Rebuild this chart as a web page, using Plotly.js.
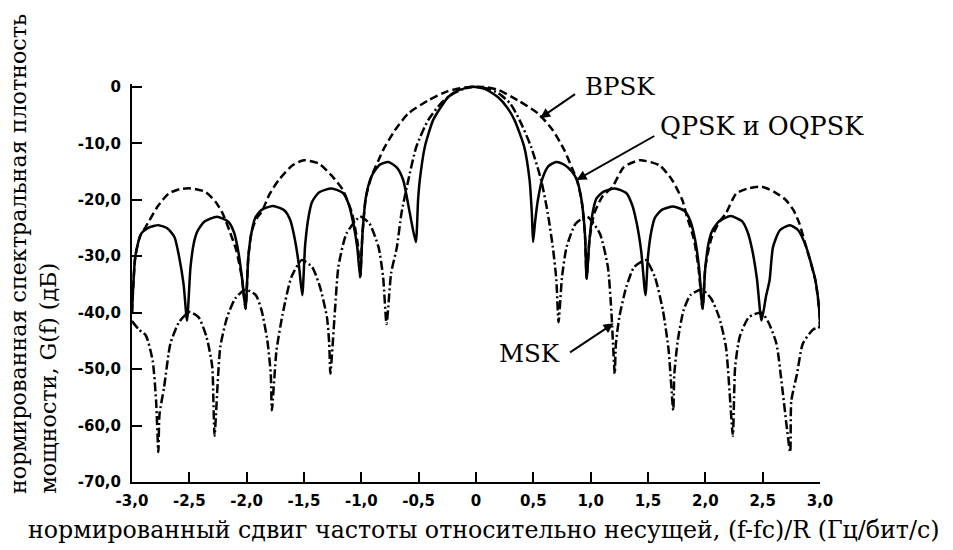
<!DOCTYPE html>
<html>
<head>
<meta charset="utf-8">
<script src="https://cdn.plot.ly/plotly-3.0.1.min.js"></script>
<style>html,body{margin:0;padding:0;background:#fff;}#chart{width:953px;height:550px;}</style>
</head>
<body>
<div id="chart"></div>
<script>
// QPSK и OQPSK (solid)
const qpskX = [-3.0,-2.97,-2.92,-2.85,-2.77,-2.69,-2.63,-2.59,-2.55,-2.52,
  -2.49,-2.46,-2.43,-2.37,-2.26,-2.16,-2.11,-2.07,-2.04,-2.01,
  -1.985,-1.955,-1.925,-1.87,-1.77,-1.67,-1.62,-1.58,-1.545,-1.515,
  -1.49,-1.46,-1.43,-1.37,-1.26,-1.16,-1.11,-1.07,-1.035,-1.01,
  -0.99,-0.96,-0.91,-0.84,-0.765,-0.69,-0.635,-0.577,-0.525,
  -0.505,-0.49,-0.446,-0.374,-0.30,-0.243,-0.15,-0.03,0.08,0.19,0.27,0.336,0.42,0.467,0.487,0.498,
  0.515,0.54,0.58,0.63,0.70,0.77,0.836,0.88,0.92,0.95,0.965,
  0.99,1.02,1.05,1.11,1.21,1.31,1.36,1.40,1.44,1.478,
  1.50,1.53,1.56,1.62,1.72,1.82,1.87,1.91,1.945,1.976,
  2.0,2.03,2.06,2.12,2.22,2.32,2.37,2.41,2.45,2.49,
  2.53,2.56,2.59,2.65,2.737,2.81,2.88,2.96,2.995,3.0];
const qpskY = [-40,-29.9,-26,-24.9,-24.5,-25.1,-26.6,-30,-35,-41.4,
  -32,-27.6,-25.6,-23.9,-23,-23.9,-25.8,-29.5,-34,-39.3,
  -30,-25.5,-23.2,-21.8,-21.1,-21.9,-23.6,-27,-31.5,-36.9,
  -28,-23,-20.4,-18.7,-18,-18.8,-20.8,-24.2,-28.5,-33.7,
  -26,-19.5,-15.8,-13.8,-13.3,-14.3,-16.5,-22.4,-27.5,
  -20,-16.5,-10.6,-5.9,-3.4,-1.8,-0.6,0,-0.4,-1.8,-3.6,-5.9,-10.6,-16.5,-22.4,-27.5,
  -24,-20,-16.2,-14.1,-13.3,-13.8,-15,-16.5,-20,-26,-34,
  -27,-22,-19.8,-18.6,-18,-18.8,-20.8,-24,-29,-36.9,
  -30,-25.5,-23.2,-21.8,-21.2,-22,-23.8,-27,-32,-39.3,
  -32,-27.5,-25.5,-23.8,-22.9,-23.8,-25.8,-29,-34,-41.4,
  -37,-34.3,-28.4,-25.4,-24.5,-25.4,-28.4,-34.3,-40,-42.5];

// BPSK (dashed)
const bpskX = [-3.0,-2.97,-2.93,-2.88,-2.78,-2.68,-2.58,-2.49,-2.36,-2.27,-2.21,-2.15,-2.09,-2.04,-2.01,
  -1.985,-1.955,-1.91,-1.87,-1.80,-1.72,-1.6,-1.5,-1.37,-1.26,-1.16,-1.08,-1.03,-1.01,
  -0.99,-0.96,-0.91,-0.85,-0.81,-0.707,-0.59,-0.417,-0.25,-0.1,0,0.1,0.2,0.365,0.54,0.67,0.77,0.84,0.88,0.92,0.95,0.965,
  0.99,1.03,1.1,1.19,1.29,1.43,1.6,1.71,1.8,1.84,1.90,1.94,1.976,
  2.0,2.05,2.12,2.18,2.27,2.37,2.49,2.6,2.7,2.77,2.82,2.88,2.96,2.995,3.0];
const bpskY = [-40,-29.9,-26.5,-24.8,-21.3,-18.9,-18.1,-18,-18.6,-20.4,-22.4,-25.5,-29,-34,-39.3,
  -30,-25.5,-23.2,-22.2,-19,-16.5,-13.9,-13,-13.6,-15.7,-18.3,-22.5,-28,-33.7,
  -26,-19.5,-15.8,-13,-11.2,-7.7,-4.7,-2.4,-0.8,-0.1,0,-0.1,-0.6,-2.4,-4.7,-7.7,-11.2,-14.5,-16.5,-20,-26,-34,
  -27,-22.5,-19.5,-17.7,-14.2,-13,-13.9,-16.5,-20.1,-23,-27,-32,-39.3,
  -32,-27,-24,-22.4,-18.9,-18,-17.7,-18.6,-20,-21.9,-24.2,-28.4,-34.3,-40,-42.5];

// MSK (dash-dot)
const mskX = [-3.0,-2.94,-2.88,-2.82,-2.79,-2.77,
  -2.76,-2.72,-2.665,-2.59,-2.5,-2.42,-2.35,-2.3,-2.29,-2.28,
  -2.23,-2.17,-2.1,-2.01,-1.92,-1.87,-1.82,-1.79,-1.78,
  -1.74,-1.68,-1.61,-1.52,-1.43,-1.36,-1.3,-1.28,-1.27,
  -1.23,-1.2,-1.13,-1.01,-0.93,-0.85,-0.81,-0.78,
  -0.74,-0.69,-0.65,-0.59,-0.52,-0.417,-0.3,-0.2,-0.1,-0.02,0.1,0.2,0.3,0.38,0.48,0.568,0.626,0.67,0.70,0.72,
  0.75,0.79,0.87,0.97,1.08,1.15,1.18,1.21,
  1.22,1.25,1.31,1.38,1.48,1.56,1.63,1.68,1.72,
  1.73,1.76,1.81,1.87,1.97,2.05,2.12,2.18,2.24,
  2.25,2.26,2.30,2.38,2.49,2.55,2.62,2.67,2.74,
  2.75,2.80,2.85,2.94,2.98,3.0];
const mskY = [-41.5,-43,-44,-48.5,-55.6,-64.7,
  -58,-53.2,-45.5,-41.7,-39.9,-40.8,-44.3,-49.6,-55.6,-61.8,
  -46.1,-40.8,-37.5,-35.9,-36.9,-39.6,-44.9,-50.8,-57.3,
  -46.7,-39.6,-33.7,-30.7,-31.9,-35.5,-40.8,-45.5,-50.8,
  -39.6,-31.9,-26,-23,-24.2,-28.4,-33.7,-42,
  -33,-28.4,-22.4,-16.5,-10.6,-5.9,-2.8,-1.2,-0.3,0,-0.3,-1.2,-3.0,-5.9,-10.6,-16.5,-22.4,-28.4,-34,-41.7,
  -33.7,-28.4,-24.2,-23,-26,-31.9,-39.6,-50.8,
  -45.5,-40.8,-35.5,-31.9,-30.7,-33.7,-39.6,-46.7,-57.3,
  -50.8,-44.9,-39.6,-36.9,-35.9,-37.5,-40.8,-46.1,-61.8,
  -55.6,-49.6,-44.3,-40.8,-40,-41.7,-45.5,-53.2,-64.7,
  -55.6,-50.8,-45.5,-43,-42.7,-42.5];

const xTickVals = [-3,-2.5,-2,-1.5,-1,-0.5,0,0.5,1,1.5,2,2.5,3];
const xTickText = ['-3,0','-2,5','-2,0','-1,5','-1,0','-0,5','0','0,5','1,0','1,5','2,0','2,5','3,0'];
const yTickVals = [0,-10,-20,-30,-40,-50,-60,-70];
const yTickText = ['0','-10,0','-20,0','-30,0','-40,0','-50,0','-60,0','-70,0'];

const xTitle = 'нормированный сдвиг частоты относительно несущей, (f-fc)/R (Гц/бит/с)';
const yTitle1 = 'нормированная спектральная плотность';
const yTitle2 = 'мощности, G(f) (дБ)';

const serif = 'DejaVu Serif, Liberation Serif, serif';
const tickFont = {family: 'DejaVu Sans, Liberation Sans, sans-serif', size: 15, color: '#000', weight: 'bold'};

const traces = [
  {x: bpskX, y: bpskY, mode: 'lines', line: {color: '#000', width: 2.5, dash: '8px,4px', shape: 'spline', smoothing: 0.6}, hoverinfo: 'skip'},
  {x: mskX, y: mskY, mode: 'lines', line: {color: '#000', width: 2.5, dash: '9px,3px,2px,3px', shape: 'spline', smoothing: 0.6}, hoverinfo: 'skip'},
  {x: qpskX, y: qpskY, mode: 'lines', line: {color: '#000', width: 2.5, shape: 'spline', smoothing: 0.6}, hoverinfo: 'skip'}
];

const layout = {
  width: 953, height: 550,
  margin: {l: 132, r: 133, t: 84, b: 68},
  paper_bgcolor: '#fff', plot_bgcolor: '#fff',
  showlegend: false,
  xaxis: {range: [-3, 3], tickvals: xTickVals, ticktext: xTickText, ticks: 'inside', ticklen: 10, tickwidth: 2,
    showline: true, linewidth: 2, linecolor: '#000', tickcolor: '#000', showgrid: false, zeroline: false,
    tickfont: tickFont, ticklabelstandoff: 4},
  yaxis: {range: [-70, 0.5], tickvals: yTickVals, ticktext: yTickText, ticks: 'inside', ticklen: 10, tickwidth: 2,
    showline: true, linewidth: 2, linecolor: '#000', tickcolor: '#000', showgrid: false, zeroline: false,
    tickfont: tickFont, ticklabelstandoff: 6},
  annotations: [
    {xref: 'paper', yref: 'paper', x: 0.5116, y: 0, yshift: -48, xanchor: 'center', yanchor: 'middle', showarrow: false,
      text: xTitle, font: {family: serif, size: 23.7, color: '#000'}},
    {xref: 'paper', yref: 'paper', x: 0, xshift: -114, y: 0, yshift: -14, xanchor: 'center', yanchor: 'bottom', textangle: -90, showarrow: false,
      text: yTitle1, font: {family: serif, size: 22.2, color: '#000'}},
    {xref: 'paper', yref: 'paper', x: 0, xshift: -85, y: 0, yshift: -14, xanchor: 'center', yanchor: 'bottom', textangle: -90, showarrow: false,
      text: yTitle2, font: {family: serif, size: 22.2, color: '#000'}},
    {x: 0.93, y: 0.1, xanchor: 'left', yanchor: 'middle', showarrow: false, text: 'BPSK', font: {family: serif, size: 24.5, color: '#000'}},
    {x: 1.59, y: -7.0, xanchor: 'left', yanchor: 'middle', showarrow: false, text: 'QPSK и OQPSK', font: {family: serif, size: 25.5, color: '#000'}},
    {x: 0.185, y: -47.3, xanchor: 'left', yanchor: 'middle', showarrow: false, text: 'MSK', font: {family: serif, size: 24.5, color: '#000'}},
    {x: 0.559, y: -5.55, ax: 0.877, ay: -1.1, axref: 'x', ayref: 'y', text: '', showarrow: true, arrowhead: 2, arrowsize: 1, arrowwidth: 2, arrowcolor: '#000'},
    {x: 0.877, y: -16.5, ax: 1.568, ay: -8.56, axref: 'x', ayref: 'y', text: '', showarrow: true, arrowhead: 2, arrowsize: 1, arrowwidth: 2, arrowcolor: '#000'},
    {x: 1.2, y: -41.9, ax: 0.807, ay: -47.2, axref: 'x', ayref: 'y', text: '', showarrow: true, arrowhead: 2, arrowsize: 1, arrowwidth: 2, arrowcolor: '#000'}
  ]
};

Plotly.newPlot('chart', traces, layout, {staticPlot: true, displayModeBar: false});
</script>
</body>
</html>
